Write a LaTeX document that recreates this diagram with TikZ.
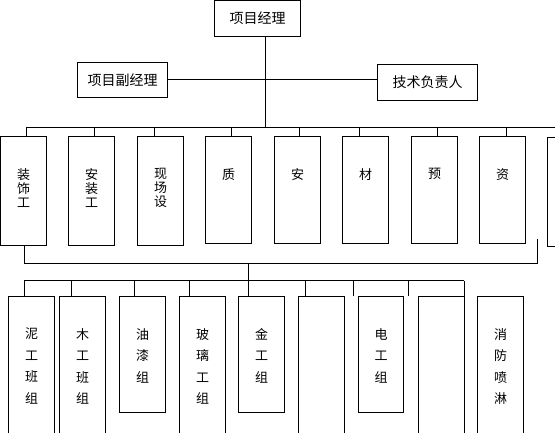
\documentclass[tikz,border=0pt]{standalone}
\usepackage{fontspec}
\setmainfont{Noto Sans CJK SC}
\usetikzlibrary{positioning}

\begin{document}
\begin{tikzpicture}[
        x=1pt, y=-1pt,
        every node/.style={font=\fontsize{13}{14}\selectfont},
        head/.style={rectangle, draw, line width=1pt, minimum width=86pt, minimum height=36pt, anchor=north west, inner sep=0pt, font=\fontsize{14}{16}\selectfont},
        dept/.style={rectangle, draw, line width=1pt, minimum width=46pt, minimum height=109pt, anchor=north west, inner sep=0pt},
        team/.style={rectangle, draw, line width=1pt, minimum width=46pt, minimum height=150pt, anchor=north west, inner sep=0pt},
        vtxt/.style={anchor=north, align=center, inner sep=0pt},
        wide/.style={vtxt, font=\fontsize{13}{21.5}\selectfont},
        line/.style={line width=1pt}
    ]
        \clip (0,0) rectangle (555,433);

        % Nodes
        \node[head] (pm) at (214,0) {项目经理};
        \node[head, minimum width=90pt, minimum height=35pt] (vpm) at (77,62) {项目副经理};
        \node[head, minimum width=100pt] (tech) at (377,64) {技术负责人};

        \node[dept] (d1) at (0,136) {};
        \node[dept] (d2) at (68,136) {};
        \node[dept] (d3) at (137,136) {};
        \node[dept, minimum height=107pt] (d4) at (205,136) {};
        \node[dept, minimum height=107pt] (d5) at (274,136) {};
        \node[dept, minimum height=107pt] (d6) at (342,136) {};
        \node[dept, minimum height=107pt] (d7) at (411,136) {};
        \node[dept, minimum height=107pt] (d8) at (479,136) {};
        \node[dept] (d9) at (547,137) {};

        \node[vtxt] at ([yshift=-32pt]d1.north) {装\\饰\\工};
        \node[vtxt] at ([yshift=-32pt]d2.north) {安\\装\\工};
        \node[vtxt] at ([yshift=-32pt]d3.north) {现\\场\\设};
        \node[vtxt] at ([yshift=-32pt]d4.north) {质};
        \node[vtxt] at ([yshift=-32pt]d5.north) {安};
        \node[vtxt] at ([yshift=-32pt]d6.north) {材};
        \node[vtxt] at ([yshift=-32pt]d7.north) {预};
        \node[vtxt] at ([yshift=-32pt]d8.north) {资};

        \node[team] (b1) at (8,296) {};
        \node[team] (b2) at (59,296) {};
        \node[team, minimum height=116pt] (b3) at (119,296) {};
        \node[team] (b4) at (179,296) {};
        \node[team, minimum height=116pt] (b5) at (238,296) {};
        \node[team] (b6) at (298,296) {};
        \node[team, minimum width=45pt, minimum height=116pt] (b7) at (358,296) {};
        \node[team] (b8) at (418,296) {};
        \node[team] (b9) at (477,296) {};

        \node[wide] at ([yshift=-32pt]b1.north) {泥\\工\\班\\组};
        \node[wide] at ([yshift=-32pt]b2.north) {木\\工\\班\\组};
        \node[wide] at ([yshift=-32pt]b3.north) {油\\漆\\组};
        \node[wide] at ([yshift=-32pt]b4.north) {玻\\璃\\工\\组};
        \node[wide] at ([yshift=-32pt]b5.north) {金\\工\\组};
        \node[wide] at ([yshift=-32pt]b7.north) {电\\工\\组};
        \node[wide] at ([yshift=-32pt]b9.north) {消\\防\\喷\\淋};

        % Lines
        \coordinate (stem) at (265,128);
        \coordinate (busL) at (26,128);
        \coordinate (busR) at (555,128);
        \draw[line] (stem |- pm.south) -- (stem);
        \draw[line] (vpm.east) -- (vpm.east -| tech.west);
        \draw[line] (busL) -- (busR);
        \foreach \n/\x in {1/26, 2/94, 3/154, 4/231, 5/299, 6/359, 7/437, 8/506} {
            \coordinate (u\n) at (\x,128);
            \draw[line] (u\n) -- (u\n |- d\n.north);
        }

        \coordinate (kL) at (24,264);
        \coordinate (kR) at (537,264);
        \coordinate (kTop) at (537,239);
        \draw[line] (d1.south -| kL) -- (kL) -- (kR) -- (kTop);

        \coordinate (trunk) at (248,264);
        \draw[line] (trunk) -- (trunk |- b5.north);

        \coordinate (vL) at (24,281);
        \coordinate (vR) at (464,281);
        \draw[line] (vL) -- (vR);
        \foreach \n/\x in {1/24, 2/71, 3/134, 4/189, 6/305, 7/353, 8/408, 9/464} {
            \coordinate (v\n) at (\x,281);
            \draw[line] (v\n) -- (v\n |- b1.north);
        }
    \end{tikzpicture}
\end{document}
